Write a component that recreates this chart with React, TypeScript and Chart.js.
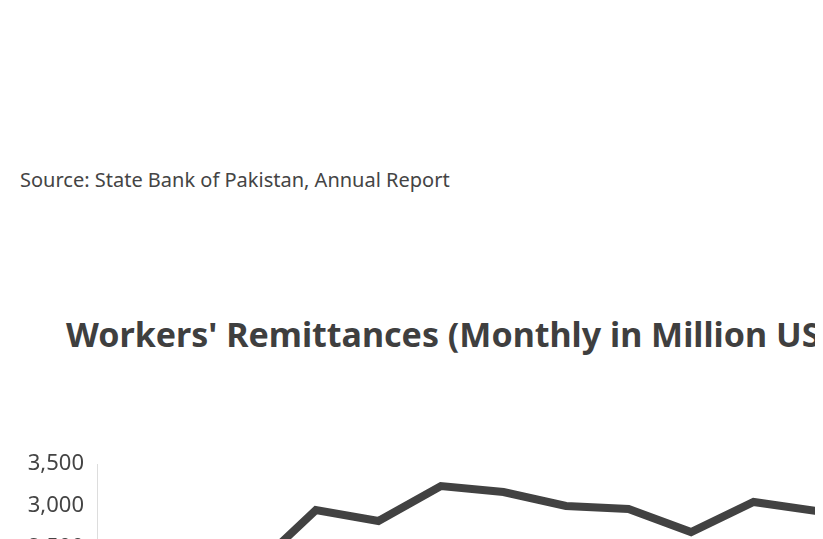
import React, { useEffect, useRef } from "react";
import { Chart, registerables } from "chart.js";

Chart.register(...registerables);

const sourceText = "Source: State Bank of Pakistan, Annual Report";
const titleText = "Workers' Remittances (Monthly in Million USD)";

const months = [
  "Dec 2023", "Jan 2024", "Feb 2024", "Mar 2024", "Apr 2024", "May 2024",
  "Jun 2024", "Jul 2024", "Aug 2024", "Sep 2024", "Oct 2024", "Nov 2024",
  "Dec 2024", "Jan 2025", "Feb 2025",
];
const remittances = [
  2380, 2400, 2250, 2952, 2821, 3238, 3167, 3000, 2964, 2690, 3048, 2940,
  3080, 3000, 3120,
];
const yMin = 0;
const yMax = 3500;
const yStep = 500;

const FONT = "'Noto Sans', sans-serif";
const TEXT = "#444444";

export default function App() {
  const ref = useRef<HTMLCanvasElement | null>(null);

  useEffect(() => {
    if (!ref.current) return;
    const chart = new Chart(ref.current, {
      type: "line",
      data: {
        labels: months,
        datasets: [
          {
            data: remittances,
            borderColor: "#424242",
            borderWidth: 8,
            pointRadius: 0,
            tension: 0,
            fill: false,
          },
        ],
      },
      options: {
        responsive: false,
        animation: false,
        layout: { padding: { top: 33, left: 0, right: 20, bottom: 0 } },
        plugins: {
          legend: { display: false },
          tooltip: { enabled: false },
          title: { display: false },
        },
        scales: {
          x: {
            type: "category",
            offset: true,
            grid: { display: false, drawTicks: false },
            border: { display: false },
            ticks: { color: TEXT, font: { family: FONT, size: 20 }, padding: 12 },
            afterFit: (s: any) => {
              s.height = 40;
            },
          },
          y: {
            min: yMin,
            max: yMax,
            grid: { display: false, drawTicks: false },
            border: { display: true, color: "#dddddd", width: 1 },
            ticks: {
              stepSize: yStep,
              color: TEXT,
              padding: 13,
              font: { family: FONT, size: 22 },
              callback: (v: any) => Number(v).toLocaleString("en-US"),
            },
            afterFit: (s: any) => {
              s.width = 89;
            },
          },
        },
      },
    });
    return () => chart.destroy();
  }, []);

  return (
    <div style={{ position: "relative", width: 1400, height: 900, fontFamily: FONT, color: TEXT }}>
      <div
        style={{
          position: "absolute",
          left: 12,
          top: 158,
          fontSize: 20,
          lineHeight: "28px",
          whiteSpace: "nowrap",
        }}
      >
        {sourceText}
      </div>
      <div
        style={{
          position: "absolute",
          left: 58,
          top: 302,
          fontSize: 34,
          lineHeight: "48px",
          fontWeight: 700,
          whiteSpace: "nowrap",
          color: "#3f3f3f",
        }}
      >
        {titleText}
      </div>
      <canvas
        ref={ref}
        width={1047}
        height={367}
        style={{ position: "absolute", left: 0, top: 423 }}
      />
    </div>
  );
}
